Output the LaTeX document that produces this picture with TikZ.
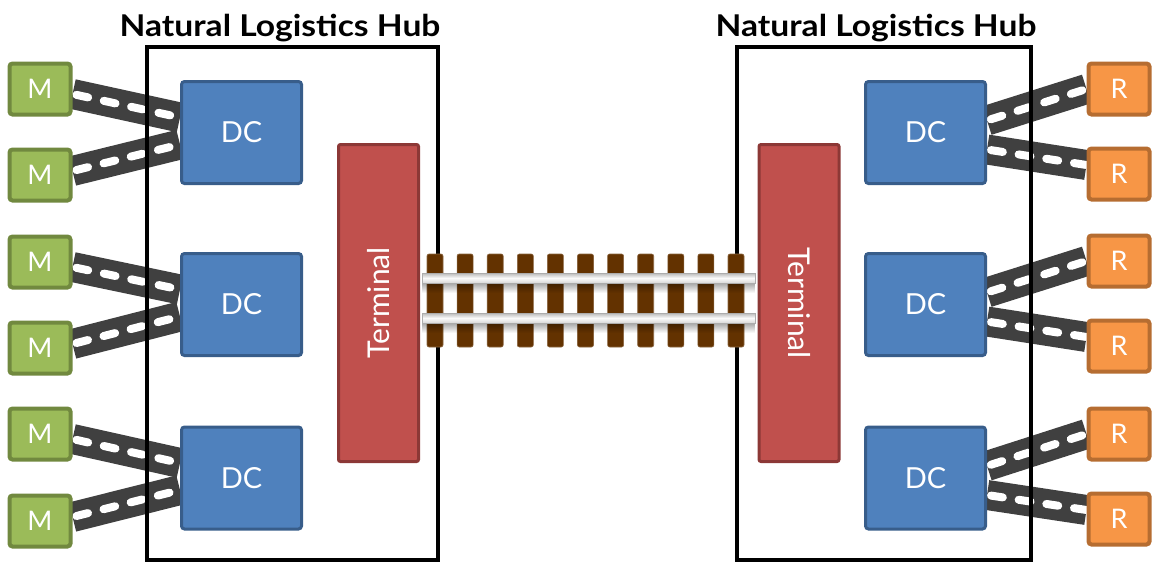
\documentclass[tikz,border=0pt]{standalone}
\usepackage{fontspec}
\setmainfont{Lato}
\newfontfamily\hubfont[FakeStretch=1.12]{Lato}
\usepackage{tikz}
\usetikzlibrary{fadings}

\definecolor{mfill}{HTML}{9BBB59}
\definecolor{mborder}{HTML}{71893F}
\definecolor{rfill}{HTML}{F79646}
\definecolor{rborder}{HTML}{B66D31}
\definecolor{dcfill}{HTML}{4F81BD}
\definecolor{dcborder}{HTML}{385D8A}
\definecolor{termfill}{HTML}{C0504D}
\definecolor{termborder}{HTML}{8C3836}
\definecolor{roadgray}{HTML}{404040}
\definecolor{tiebrown}{HTML}{633200}

\pgfdeclarelayer{back}
\pgfsetlayers{back,main}
\tikzfading[name=fade down,top color=transparent!0,bottom color=transparent!100]

\begin{document}
\begin{tikzpicture}[x=1pt,y=-1pt,
  hub/.style={draw=black,line width=4.5pt,minimum width=291pt,minimum height=513pt},
  hubtitle/.style={font=\hubfont\fontsize{30}{34}\selectfont\bfseries,anchor=base},
  maker/.style={draw=mborder,fill=mfill,line width=4pt,rounded corners=3pt,minimum width=61pt,minimum height=51pt,text=white,font=\fontsize{27}{30}\selectfont},
  retail/.style={maker,draw=rborder,fill=rfill},
  dc/.style={draw=dcborder,fill=dcfill,line width=3pt,rounded corners=3pt,minimum width=120pt,minimum height=102pt,text=white,font=\fontsize{29}{32}\selectfont},
  terminal/.style={draw=termborder,fill=termfill,line width=3pt,rounded corners=2pt,minimum width=80pt,minimum height=317pt,text=white,font=\fontsize{30}{34}\selectfont},
  road/.style={line width=30pt,draw=roadgray,postaction={draw=white,line width=8pt,line cap=round,dash pattern=on 12pt off 16pt,dash phase=-4pt}},
  tie/.style={fill=tiebrown,draw=tiebrown!75!white,rounded corners=2pt,line width=0.6pt},
  rail/.style={draw=gray!65,line width=0.6pt,top color=gray!55,bottom color=gray!30,middle color=gray!4},
  railshadow/.style={fill=black,opacity=0.35,path fading=fade down}
]
\useasboundingbox (0,0) rectangle (1157,565);

% titles
\node[hubtitle] (titleL) at (280,36) {Natural Logistics Hub};
\node[hubtitle] (titleR) at (876,36) {Natural Logistics Hub};

% hub outlines (roads pass below them)
\node[hub] (hubL) at (292.5,303.5) {};
\node[hub,minimum width=294pt] (hubR) at (884,303.5) {};

% left hub
\node[maker] (m1) at (40,89) {M};
\node[maker] (m2) at (40,175) {M};
\node[maker] (m3) at (40,262) {M};
\node[maker] (m4) at (40,348) {M};
\node[maker] (m5) at (40,434) {M};
\node[maker] (m6) at (40,521) {M};
\node[dc] (dcL1) at (241.5,132.5) {DC};
\node[dc] (dcL2) at (241.5,304.5) {DC};
\node[dc] (dcL3) at (241.5,478) {DC};
\node[terminal] (termL) at (378.5,303) {\rotatebox{90}{Terminal}};

% right hub
\node[terminal] (termR) at (799,303) {\rotatebox{-90}{Terminal}};
\node[dc] (dcR1) at (925.5,132.5) {DC};
\node[dc] (dcR2) at (925.5,304.5) {DC};
\node[dc] (dcR3) at (925.5,478) {DC};
\node[retail] (r1) at (1119,89) {R};
\node[retail] (r2) at (1119,174) {R};
\node[retail] (r3) at (1119,261) {R};
\node[retail] (r4) at (1119,346) {R};
\node[retail] (r5) at (1119,434) {R};
\node[retail] (r6) at (1119,519) {R};

\begin{pgfonlayer}{back}
% roads in
\draw[road] ([yshift=-5pt]m1.east) -- ([yshift=15pt]dcL1.west);
\draw[road] ([yshift=4pt]m2.east) -- ([yshift=-12pt]dcL1.west);
\draw[road] ([yshift=-5pt]m3.east) -- ([yshift=15pt]dcL2.west);
\draw[road] ([yshift=4pt]m4.east) -- ([yshift=-12pt]dcL2.west);
\draw[road] ([yshift=-5pt]m5.east) -- ([yshift=15pt]dcL3.west);
\draw[road] ([yshift=4pt]m6.east) -- ([yshift=-12pt]dcL3.west);
% roads out
\draw[road] ([yshift=12pt]dcR1.east) -- (r1.west);
\draw[road] ([yshift=-17pt]dcR1.east) -- ([yshift=9pt]r2.west);
\draw[road] ([yshift=12pt]dcR2.east) -- (r3.west);
\draw[road] ([yshift=-17pt]dcR2.east) -- ([yshift=9pt]r4.west);
\draw[road] ([yshift=12pt]dcR3.east) -- (r5.west);
\draw[road] ([yshift=-17pt]dcR3.east) -- ([yshift=9pt]r6.west);
\end{pgfonlayer}

% railway between the terminals
\foreach \i in {0,...,10}
  \draw[tie] (427+30.1*\i,254) rectangle +(16,93);
\fill[railshadow] ([xshift=2pt,yshift=20pt]termL.east) rectangle ([xshift=-2pt,yshift=10pt]termR.west);
\fill[railshadow] ([xshift=2pt,yshift=-20pt]termL.east) rectangle ([xshift=-2pt,yshift=-30pt]termR.west);
\shade[rail] ([xshift=2pt,yshift=30pt]termL.east) rectangle ([xshift=-2pt,yshift=20pt]termR.west);
\shade[rail] ([xshift=2pt,yshift=-10pt]termL.east) rectangle ([xshift=-2pt,yshift=-20pt]termR.west);
\end{tikzpicture}
\end{document}
